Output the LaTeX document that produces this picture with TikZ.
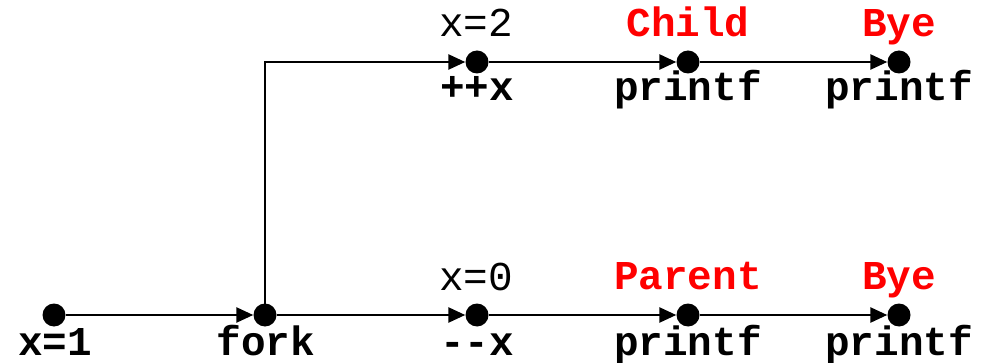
\documentclass[tikz,border=0pt]{standalone}
\usepackage{fontspec}
\setmonofont{Liberation Mono}
\usetikzlibrary{arrows.meta}
\begin{document}
\begin{tikzpicture}[x=1pt,y=-1pt,
  dot/.style={circle,fill=black,inner sep=0pt,minimum size=23pt},
  conn/.style={line width=2.6pt,-{Triangle[length=17pt,width=15pt]}},
  op/.style={anchor=base,inner sep=0pt,font=\fontsize{41}{41}\selectfont\ttfamily\bfseries},
  msg/.style={op,text={rgb,255:red,255;green,0;blue,0}},
  val/.style={anchor=base,inner sep=0pt,font=\fontsize{41}{41}\selectfont\ttfamily}]
\useasboundingbox (0,0) rectangle (984,363);
% dots
\node[dot] (a) at (54,315) {};
\node[dot] (f) at (265,315) {};
\node[dot] (b1) at (477,315) {};
\node[dot] (b2) at (688,315) {};
\node[dot] (b3) at (899,315) {};
\node[dot] (t1) at (477,62) {};
\node[dot] (t2) at (688,62) {};
\node[dot] (t3) at (899,62) {};
% connectors
\draw[conn] (a) -- (f);
\draw[conn] (f) -- (b1);
\draw[conn] (b1) -- (b2);
\draw[conn] (b2) -- (b3);
\draw[conn] (f.center) |- (t1);
\draw[conn] (t1) -- (t2);
\draw[conn] (t2) -- (t3);
% labels below
\node[op] (la) at (55,355) {x=1};
\node[op] (lf) at (266,355) {fork};
\node[op] (lb1) at (477,355) {-{}-x};
\node[op] (lb2) at (688,355) {printf};
\node[op] (lb3) at (899,355) {printf};
\node[op] (lt1) at (477,101) {++x};
\node[op] (lt2) at (688,101) {printf};
\node[op] (lt3) at (899,101) {printf};
% labels above
\node[val] (v1) at (476,37) {x=2};
\node[val] (v0) at (476,290) {x=0};
\node[msg] (m1) at (688,37) {Child};
\node[msg] (m2) at (899,37) {Bye};
\node[msg] (m3) at (688,289) {Parent};
\node[msg] (m4) at (899,289) {Bye};
\end{tikzpicture}
\end{document}
